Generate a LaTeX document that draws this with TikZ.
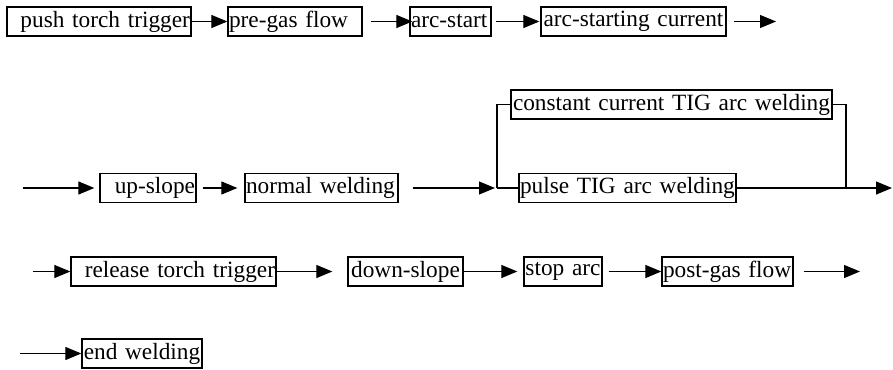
\documentclass[tikz,border=0pt]{standalone}
\usepackage{fontspec}
\setmainfont{Liberation Serif}
\usetikzlibrary{arrows.meta,calc}
\begin{document}
\begin{tikzpicture}[x=1pt,y=-1pt,
  stepbox/.style={draw,line width=1.3pt,inner xsep=1pt,inner ysep=0pt,minimum height=29pt,
    font=\fontsize{23.3}{26}\selectfont},
  flow/.style={line width=1.2pt,-{Triangle[length=16pt,width=13pt]}},
  plain/.style={line width=1.2pt}]
\useasboundingbox (0,0) rectangle (893,369);
% row 1
\node[stepbox,text width=182pt,align=right] (push) at (99,21.5) {\mbox{push torch trigger}};
\node[stepbox,text width=132pt,align=left] (pregas) at (295,21.5) {\mbox{pre-gas flow}};
\node[stepbox,text width=79pt,align=left] (arcstart) at (450.5,21.5) {\mbox{arc-start}};
\node[stepbox,text width=183pt,align=center] (arccur) at (633.5,21.5) {\mbox{arc-starting current}};
\coordinate (e1) at (776,21.5);
\draw[flow] (push) -- (pregas);
\draw[flow,shorten <=8pt,shorten >=-3pt] (pregas) -- (arcstart);
\draw[flow,shorten <=4pt,shorten >=1pt] (arcstart) -- (arccur);
\draw[flow,shorten <=7pt] (arccur) -- (e1);
% row 2
\coordinate (s2) at (23,188);
\node[stepbox,text width=94pt,align=right] (up) at (148,188) {\mbox{up-slope}};
\node[stepbox,text width=151pt,align=left] (normal) at (321.5,188) {\mbox{normal welding}};
\coordinate (split) at (497,188);
\node[stepbox,text width=319pt,align=center] (const) at (671.5,104.5) {\mbox{constant current TIG arc welding}};
\node[stepbox,text width=215pt,align=left] (pulse) at (627.5,188) {\mbox{pulse TIG arc welding}};
\coordinate (join) at (846,188);
\coordinate (e2) at (892,188);
\draw[flow,shorten >=5pt] (s2) -- (up);
\draw[flow,shorten <=6pt,shorten >=7pt] (up) -- (normal);
\draw[flow,shorten <=14pt,shorten >=2pt] (normal) -- (split);
\draw[plain] (split) -- (pulse);
\draw[plain] (split) |- (const);
\draw[plain] (const) -| (join);
\draw[plain] (pulse) -- (join);
\draw[flow] (join) -- (e2);
% row 3
\coordinate (s3) at (33,271.5);
\node[stepbox,text width=203pt,align=right] (release) at (173.5,271.5) {\mbox{release torch trigger}};
\node[stepbox,text width=113pt,align=center] (down) at (405.5,271.5) {\mbox{down-slope}};
\node[stepbox,text width=76pt,align=center] (stop) at (563,271.5) {\mbox{stop arc}};
\node[stepbox,text width=129pt,align=left] (post) at (727.5,271.5) {\mbox{post-gas flow}};
\coordinate (e3) at (860,271.5);
\draw[flow] (s3) -- (release);
\draw[flow,shorten >=15pt] (release) -- (down);
\draw[flow,shorten >=6pt] (down) -- (stop);
\draw[flow,shorten <=6pt] (stop) -- (post);
\draw[flow,shorten <=10pt] (post) -- (e3);
% row 4
\coordinate (s4) at (20,353.5);
\node[stepbox,text width=118pt,align=center] (endw) at (142,353.5) {\mbox{end welding}};
\draw[flow] (s4) -- (endw);
\end{tikzpicture}
\end{document}
